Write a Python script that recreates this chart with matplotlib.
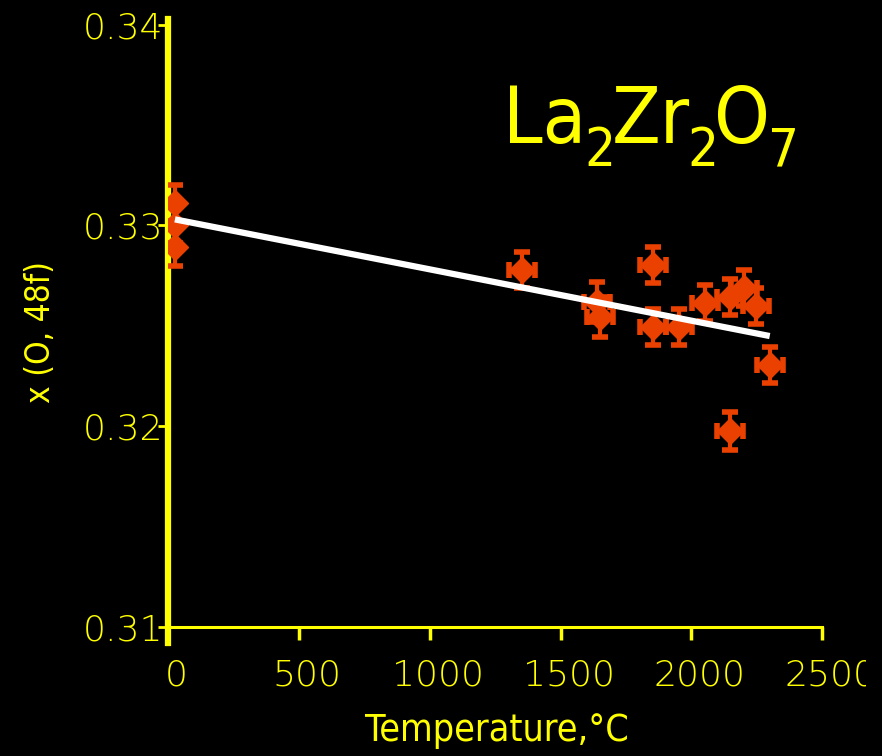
import matplotlib

matplotlib.use("Agg")

import matplotlib.pyplot as plt
from matplotlib.transforms import Bbox, ScaledTranslation, offset_copy

# --- data ---
temperature = [25, 25, 25, 1354, 1640, 1650, 1852, 1852, 1953, 2052, 2149, 2200, 2249, 2300, 2149]
x_oxygen = [0.3311, 0.3300, 0.3289, 0.32778, 0.3262, 0.32545, 0.32803, 0.32496,
            0.32496, 0.32612, 0.32645, 0.32687, 0.32599, 0.32305, 0.31978]
x_err = [0, 0, 0, 50, 50, 50, 50, 50, 50, 50, 50, 50, 50, 50, 50]
y_err = [0.0009, 0.0009, 0.0009, 0.0009, 0.001, 0.001, 0.0009, 0.0009,
         0.0009, 0.0009, 0.0009, 0.0009, 0.0009, 0.0009, 0.00095]
fit_T = [25, 2300]
fit_x = [0.3303, 0.32449]
x_ticks = [0, 500, 1000, 1500, 2000, 2500]
y_ticks = [0.31, 0.32, 0.33, 0.34]
formula = [("La", False), ("2", True), ("Zr", False), ("2", True), ("O", False), ("7", True)]

YELLOW = "#FFFF00"
ORANGE = "#EA4100"

plt.rcParams["font.family"] = ["DejaVu Sans"]
plt.rcParams["font.weight"] = "light"

fig = plt.figure(figsize=(8.82, 7.56), dpi=100, facecolor="black")
ax = fig.add_axes([0.1909, 0.1706, 0.7411, 0.7969], facecolor="black")

ax.errorbar(temperature, x_oxygen, xerr=x_err, yerr=y_err, fmt="D", ms=13.5,
            color=ORANGE, mec=ORANGE, ecolor=ORANGE, elinewidth=3,
            capsize=6, capthick=4, zorder=3)
ax.plot(fit_T, fit_x, color="white", lw=4.5, solid_capstyle="butt", zorder=4)

ax.set_xlim(0, 2500)
ax.set_ylim(0.31, 0.34)
ax.set_xticks(x_ticks)
ax.set_yticks(y_ticks)
ax.set_xticklabels([str(t) for t in x_ticks])
ax.set_yticklabels([f"{v:.2f}" for v in y_ticks])

for side in ("top", "right"):
    ax.spines[side].set_visible(False)
ax.spines["left"].set_color(YELLOW)
ax.spines["left"].set_linewidth(4.5)
ax.spines["left"].set_bounds(0.3092, 0.3403)
ax.spines["bottom"].set_color(YELLOW)
ax.spines["bottom"].set_linewidth(2.2)

ax.tick_params(axis="x", colors=YELLOW, direction="out", length=9, width=2.5,
               labelsize=26, pad=14)
ax.tick_params(axis="y", colors=YELLOW, direction="out", length=7, width=2,
               labelsize=26, pad=-3)

# x tick labels sit a bit right of their ticks; the last one is cut at the edge
shift = ScaledTranslation(8 / 100, 0, fig.dpi_scale_trans)
clip = Bbox.from_extents(0, 0, 866, 756)
for lbl in ax.get_xticklabels():
    lbl.set_transform(lbl.get_transform() + shift)
    lbl.set_clip_box(clip)
    lbl.set_clip_on(True)

ax.set_xlabel("Temperature,°C", color=YELLOW, fontsize=27, fontstretch="condensed")
ax.xaxis.set_label_coords(0.503, -0.143)
ax.set_ylabel("x (O, 48f)", color=YELLOW, fontsize=24, fontstretch="condensed")
ax.yaxis.set_label_coords(-0.17, 0.49)

# formula: big text with large, low subscripts, laid out piece by piece
renderer = fig.canvas.get_renderer()
trans = ax.transAxes
x0, y0 = 0.512, 0.8035
dx = 0.0
for piece, sub in formula:
    t = ax.text(x0, y0, piece, color=YELLOW, ha="left", va="baseline",
                fontsize=39 if sub else 57, fontstretch="condensed",
                transform=offset_copy(trans, fig, x=dx, y=-23 if sub else 0, units="dots"))
    dx += t.get_window_extent(renderer).width - (4 if sub else 2)

fig.savefig("out.png", dpi=100, facecolor="black")
